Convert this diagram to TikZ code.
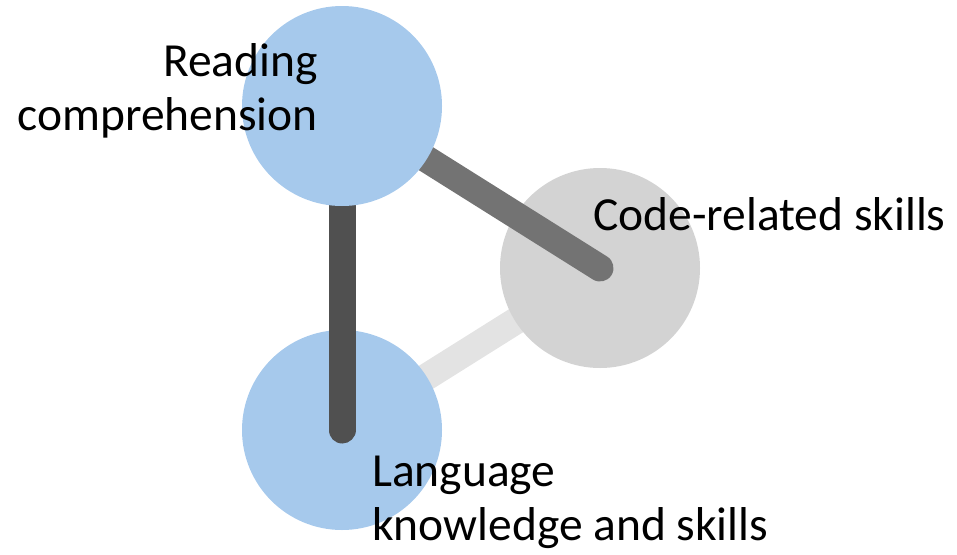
\documentclass[tikz,border=0pt]{standalone}
\usepackage{fontspec}
\setmainfont{Carlito}

\definecolor{skillblue}{RGB}{166,201,236}
\definecolor{skillgrey}{RGB}{211,211,211}
\definecolor{linkdark}{RGB}{80,80,80}
\definecolor{linkmid}{RGB}{115,115,115}
\definecolor{linklight}{RGB}{227,227,227}

\tikzset{
  bubble/.style={circle,minimum size=200pt,inner sep=0pt},
  link/.style={line width=27pt,line cap=round},
  skilllabel/.style={inner sep=0pt,font=\fontsize{47.5}{54}\selectfont}
}

\begin{document}
\begin{tikzpicture}[x=1pt,y=-1pt]
\useasboundingbox (0,0) rectangle (957,554);

% centres of the three bubbles
\coordinate (reading) at (342,106);
\coordinate (code) at (600,268);
\coordinate (language) at (342,430);

%Straight Lines: language -- code, under both bubbles
\draw [link,color=linklight] (language) -- (code);
%Shape: Circle
\node [bubble,fill=skillblue] (languagebubble) at (language) {};
%Shape: Circle
\node [bubble,fill=skillgrey] (codebubble) at (code) {};
%Straight Lines
\draw [link,color=linkdark] (reading) -- (language);
%Straight Lines
\draw [link,color=linkmid] (reading) -- (code);
%Shape: Circle
\node [bubble,fill=skillblue] (readingbubble) at (reading) {};

% Text Node
\node [skilllabel,anchor=base east,align=right] (readingtext) at (318,130) {Reading\\comprehension};
% Text Node
\node [skilllabel,anchor=base west] (codetext) at (593,230) {Code-related skills};
% Text Node
\node [skilllabel,anchor=base west,align=left] (languagetext) at (372,540) {Language\\knowledge and skills};

\end{tikzpicture}
\end{document}
